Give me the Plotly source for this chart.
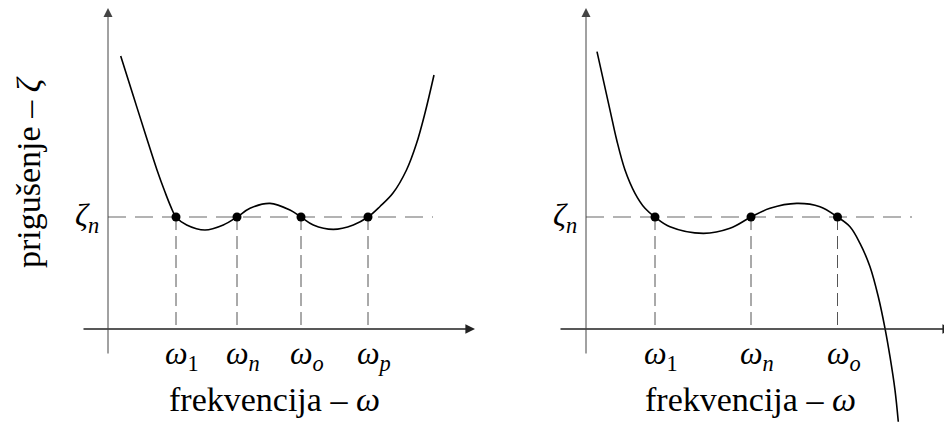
import plotly.graph_objects as go

# Damping level marked on both diagrams
zeta_n = 1.0
zeta_label = "<i>ζ</i><sub><i>n</i></sub>"

# Left diagram: damping curve crossing zeta_n four times
omega_left = [0.68, 1.29, 1.93, 2.60]
omega_left_labels = [
    "<i>ω</i><sub>1</sub>",
    "<i>ω</i><sub><i>n</i></sub>",
    "<i>ω</i><sub><i>o</i></sub>",
    "<i>ω</i><sub><i>p</i></sub>",
]
curve_left_x = [0.127, 0.255, 0.38, 0.49, 0.57, 0.63, 0.68, 0.787, 0.97, 1.153,
                1.29, 1.42, 1.62, 1.82, 1.93, 2.053, 2.253, 2.453, 2.60, 2.72,
                2.85, 2.985, 3.085, 3.17, 3.26]
curve_left_y = [2.4375, 2.076, 1.723, 1.420, 1.223, 1.089, 1.0, 0.929, 0.884, 0.929,
                1.0, 1.078, 1.122, 1.062, 1.0, 0.929, 0.890, 0.929, 1.0, 1.094,
                1.214, 1.420, 1.656, 1.929, 2.268]

# Right diagram: damping curve crossing zeta_n three times, then falling
omega_right = [0.69, 1.65, 2.515]
omega_right_labels = [
    "<i>ω</i><sub>1</sub>",
    "<i>ω</i><sub><i>n</i></sub>",
    "<i>ω</i><sub><i>o</i></sub>",
]
curve_right_x = [0.11, 0.24, 0.307, 0.39, 0.49, 0.59, 0.69, 0.84, 1.173,
                 1.44, 1.65, 1.84, 2.107, 2.34, 2.515, 2.64, 2.74, 2.84, 2.923,
                 2.99, 3.04, 3.09, 3.123]
curve_right_y = [2.476, 1.955, 1.6875, 1.420, 1.212, 1.078, 1.0, 0.913, 0.854,
                 0.899, 1.0, 1.078, 1.122, 1.092, 1.0, 0.913, 0.765, 0.556, 0.288,
                 0.006, -0.247, -0.545, -0.828]

x_title = "frekvencija – <i>ω</i>"
y_title = "prigušenje – <i>ζ</i>"

FONT = "Liberation Serif"
LABEL_SIZE = 32
TITLE_SIZE = 34

panels = [
    dict(xa="x", ya="y", omega=omega_left, labels=omega_left_labels,
         cx=curve_left_x, cy=curve_left_y,
         xrange=[-1.08, 3.64], axis_x=(-0.26, 3.67), dash_end=3.25, title_x=274),
    dict(xa="x2", ya="y2", omega=omega_right, labels=omega_right_labels,
         cx=curve_right_x, cy=curve_right_y,
         xrange=[-1.14, 3.58], axis_x=(-0.27, 3.66), dash_end=3.26, title_x=750),
]

yrange = [-0.839, 2.9375]
axis_y = (-0.232, 2.866)

fig = go.Figure()

for p in panels:
    xa, ya = p["xa"], p["ya"]
    # horizontal reference at zeta_n
    fig.add_trace(go.Scatter(
        x=[0, p["dash_end"]], y=[zeta_n, zeta_n], mode="lines",
        line=dict(color="#9a9a9a", width=1.5, dash="18px,9px"),
        xaxis=xa, yaxis=ya, hoverinfo="skip"))
    # drop lines from each crossing to the frequency axis
    for w in p["omega"]:
        fig.add_trace(go.Scatter(
            x=[w, w], y=[zeta_n, 0], mode="lines",
            line=dict(color="#555555", width=1, dash="13px,6px"),
            xaxis=xa, yaxis=ya, hoverinfo="skip"))
    # damping curve
    fig.add_trace(go.Scatter(
        x=p["cx"], y=p["cy"], mode="lines",
        line=dict(color="black", width=1.6, shape="spline", smoothing=1.0),
        xaxis=xa, yaxis=ya, hoverinfo="skip"))
    # crossing points
    fig.add_trace(go.Scatter(
        x=p["omega"], y=[zeta_n] * len(p["omega"]), mode="markers",
        marker=dict(color="black", size=9),
        xaxis=xa, yaxis=ya, hoverinfo="skip", cliponaxis=False))

    # axes with arrowheads
    fig.add_annotation(x=p["axis_x"][1], y=0, ax=p["axis_x"][0], ay=0,
                       xref=xa, yref=ya, axref=xa, ayref=ya, text="",
                       showarrow=True, arrowhead=2, arrowsize=1.2,
                       arrowwidth=1.6, arrowcolor="#222222")
    fig.add_annotation(x=0, y=axis_y[1], ax=0, ay=axis_y[0],
                       xref=xa, yref=ya, axref=xa, ayref=ya, text="",
                       showarrow=True, arrowhead=2, arrowsize=1.8,
                       arrowwidth=1, arrowcolor="#444444")

    # frequency labels
    for w, lab in zip(p["omega"], p["labels"]):
        fig.add_annotation(x=w, y=0, xref=xa, yref=ya, text=lab, showarrow=False,
                           xanchor="center", yanchor="top", xshift=6, yshift=-4,
                           font=dict(family=FONT, size=LABEL_SIZE, color="black"))
    # zeta_n label
    fig.add_annotation(x=0, y=zeta_n, xref=xa, yref=ya, text=zeta_label,
                       showarrow=False, xanchor="right", yanchor="middle",
                       xshift=-7, font=dict(family=FONT, size=LABEL_SIZE, color="black"))
    # frequency axis title
    fig.add_annotation(x=p["title_x"] / 944, y=1 - 399 / 423, xref="paper", yref="paper",
                       text=x_title, showarrow=False, xanchor="center", yanchor="middle",
                       font=dict(family=FONT, size=TITLE_SIZE, color="black"))

# damping axis title (left diagram only)
fig.add_annotation(x=29 / 944, y=1 - 172 / 423, xref="paper", yref="paper",
                   text=y_title, showarrow=False, textangle=-90,
                   xanchor="center", yanchor="middle",
                   font=dict(family=FONT, size=TITLE_SIZE, color="black"))

hidden = dict(visible=False, fixedrange=True)
fig.update_layout(
    width=944, height=423,
    margin=dict(l=0, r=0, t=0, b=0),
    paper_bgcolor="white", plot_bgcolor="white",
    showlegend=False,
    xaxis=dict(domain=[0, 0.5], range=panels[0]["xrange"], **hidden),
    yaxis=dict(domain=[0, 1], range=yrange, **hidden),
    xaxis2=dict(domain=[0.5, 1], range=panels[1]["xrange"], anchor="y2", **hidden),
    yaxis2=dict(domain=[0, 1], range=yrange, anchor="x2", **hidden),
)

fig.write_html("out.html")
